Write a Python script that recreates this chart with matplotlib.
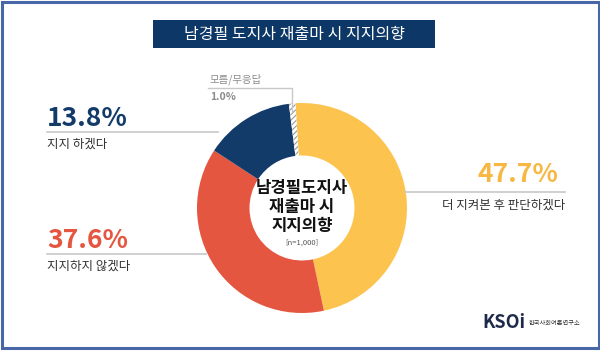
import matplotlib
matplotlib.use("agg")
import matplotlib.pyplot as plt
from matplotlib.patches import Rectangle

plt.rcParams['font.family'] = ['Noto Sans CJK KR', 'DejaVu Sans']
plt.rcParams['hatch.color'] = '#9a9a9a'
plt.rcParams['hatch.linewidth'] = 0.8

title = "남경필 도지사 재출마 시 지지의향"
center_text = "남경필도지사\n재출마 시\n지지의향"
sample = "[n=1,000]"
answers = ["더 지켜본 후 판단하겠다", "지지하지 않겠다", "지지 하겠다", "모름/무응답"]
shares = [47.7, 37.6, 13.8, 1.0]
colors = ["#fcc44f", "#e4563f", "#123b6a", "white"]

W, H = 600, 351
fig = plt.figure(figsize=(W / 100, H / 100), dpi=100)
ax = fig.add_axes([0, 0, 1, 1])

def Y(y):
    # pixel row from the top -> axes y
    return H - y

cx, cy, r = 302, Y(208), 105
wedges, _ = ax.pie(shares, colors=colors, startangle=93.6, counterclock=False,
                   center=(cx, cy), radius=r,
                   wedgeprops=dict(width=r * 0.5, linewidth=0))
wedges[3].set_hatch('//////')
wedges[3].set_edgecolor('#9a9a9a')
wedges[3].set_linewidth(0)
ax.set_xlim(0, W)
ax.set_ylim(0, H)
ax.set_aspect('auto')
ax.axis('off')

# frame
ax.add_patch(Rectangle((1.5, 3), W - 3, H - 4.5, fill=False, ec="#4767a8", lw=2.2))

# title box
ax.add_patch(Rectangle((153, Y(48)), 282, 28, fc="#0c3766", ec="none"))
ax.text(294, Y(34), title, color="white", fontsize=11.5, ha="center", va="center")

# center text
ax.text(cx, Y(207), center_text, fontsize=12, fontweight="bold", ha="center",
        va="center", linespacing=1.05, color="#111111")
ax.text(cx, Y(243), sample, fontsize=5.5, ha="center", va="center", color="#555555")

line_c = "#c8c8c8"
# support
ax.text(47, Y(119), f"{shares[2]}%", fontsize=19, fontweight="bold", color=colors[2],
        ha="left", va="center")
ax.plot([47, 218], [Y(132), Y(132)], color=line_c, lw=1.2)
ax.text(47, Y(144), answers[2], fontsize=9, color="#333333", ha="left", va="center")

# not support
ax.text(47, Y(240), f"{shares[1]}%", fontsize=19, fontweight="bold", color=colors[1],
        ha="left", va="center")
ax.plot([47, 206], [Y(254), Y(254)], color=line_c, lw=1.2)
ax.text(47, Y(266), answers[1], fontsize=9, color="#333333", ha="left", va="center")

# wait and see
ax.text(558, Y(175), f"{shares[0]}%", fontsize=19, fontweight="bold", color="#f7b843",
        ha="right", va="center")
ax.plot([405, 565], [Y(192), Y(192)], color=line_c, lw=1.2)
ax.text(565, Y(205), answers[0], fontsize=9, color="#333333", ha="right", va="center")

# don't know
ax.text(210, Y(79), answers[3], fontsize=7.5, color="#8a8a8a", ha="left", va="center")
ax.plot([208, 292, 292], [Y(88), Y(88), Y(112)], color=line_c, lw=1)
ax.text(210, Y(97), f"{shares[3]}%", fontsize=7.5, fontweight="bold", color="#8a8a8a",
        ha="left", va="center")

# logo
ax.text(482, Y(323), "KSOi", fontsize=13, fontweight="bold", color="#1d2a4a",
        ha="left", va="center")
ax.text(529, Y(323), "한국사회여론연구소", fontsize=4.5, color="#333333",
        ha="left", va="center")

fig.savefig("out.png", dpi=100)
